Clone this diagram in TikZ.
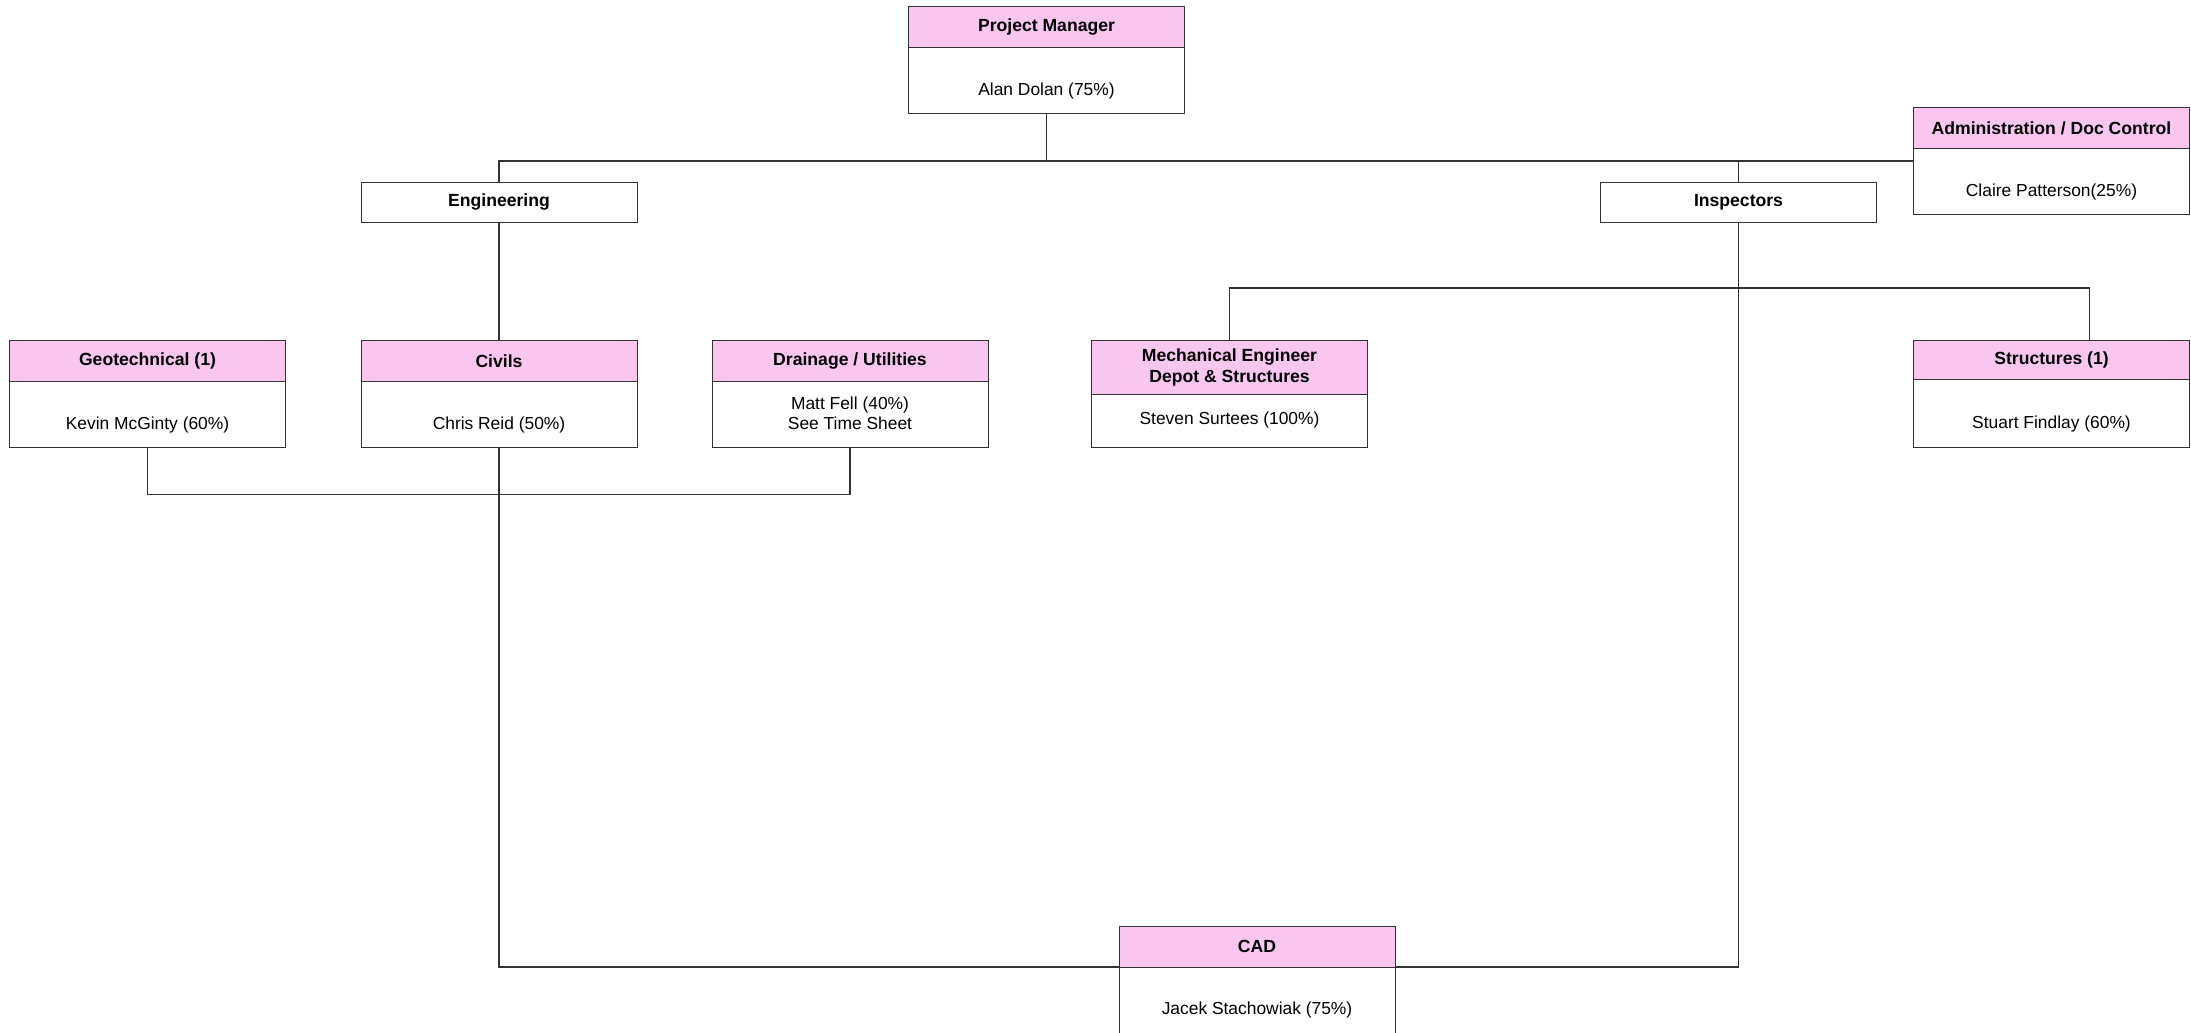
\documentclass[tikz,border=0pt]{standalone}
\usepackage{fontspec}
\setmainfont{Liberation Sans}
\usetikzlibrary{positioning}
\definecolor{headpink}{RGB}{249,198,239}
\begin{document}
\begin{tikzpicture}[x=0.5pt,y=-0.5pt,
  card/.style={draw=black!80,fill=white,minimum width=138pt,minimum height=53.5pt,inner sep=0pt,outer sep=0pt},
  head/.style={draw=black!80,fill=headpink,minimum width=138pt,minimum height=20.5pt,inner sep=0pt,outer sep=0pt,anchor=north,align=center,font=\fontsize{8.8}{10.5}\selectfont\bfseries},
  group/.style={draw=black!80,fill=white,minimum width=138pt,minimum height=20pt,inner sep=0pt,outer sep=0pt,font=\fontsize{8.8}{10.5}\selectfont\bfseries},
  who/.style={inner sep=0pt,align=center,font=\fontsize{8.7}{10}\selectfont},
  wire/.style={draw=black!80,line width=0.7pt}]
\useasboundingbox (0,0) rectangle (2191,1033);
% project manager and admin
\node[card] (pm) at (1046.5,59.5) {};
\node[head] (pmh) at (pm.north) {Project Manager};
\node[who] (pmw) at ([yshift=11pt]pm.south) {Alan Dolan (75\%)};
\node[card] (adm) at (2051.5,161) {};
\node[head] (admh) at (adm.north) {Administration / Doc Control};
\node[who] (admw) at ([yshift=11.5pt]adm.south) {Claire Patterson(25\%)};
% groups
\node[group] (eng) at (499,202) {Engineering};
\node[group] (insp) at (1738.5,202) {Inspectors};
% row of staff
\node[card] (geo) at (147.5,394) {};
\node[head] (geoh) at (geo.north) {Geotechnical (1)};
\node[who] (geow) at ([yshift=11.5pt]geo.south) {Kevin McGinty (60\%)};
\node[card] (civ) at (499,394) {};
\node[head] (civh) at (civ.north) {Civils};
\node[who] (civw) at ([yshift=11.5pt]civ.south) {Chris Reid (50\%)};
\node[card] (drn) at (850,394) {};
\node[head] (drnh) at (drn.north) {Drainage / Utilities};
\node[who] (drnw) at ([yshift=17pt]drn.south) {Matt Fell (40\%)\\See Time Sheet};
\node[card] (mech) at (1229.5,393.5) {};
\node[head,minimum height=27pt] (mechh) at (mech.north) {Mechanical Engineer\\Depot \& Structures};
\node[who] (mechw) at ([yshift=13.5pt]mech.south) {Steven Surtees (100\%)};
\node[card] (str) at (2051.5,393.5) {};
\node[head,minimum height=19.5pt] (strh) at (str.north) {Structures (1)};
\node[who] (strw) at ([yshift=11.5pt]str.south) {Stuart Findlay (60\%)};
% cad
\node[card] (cad) at (1257,979.5) {};
\node[head] (cadh) at (cad.north) {CAD};
\node[who] (cadw) at ([yshift=11.5pt]cad.south) {Jacek Stachowiak (75\%)};
% lines from the top
\draw[wire] (pm.south) -- (pm.south |- adm.west);
\draw[wire] (eng.north) |- (adm.west);
\draw[wire] (insp.north) -- (insp.north |- adm.west);
% lines of engineering
\draw[wire] (eng.south) -- (civ.north);
\draw[wire] (geo.south) -- ++(0,47) -| (drn.south);
\draw[wire] (civ.south) |- (cadh.south west);
% lines of inspectors
\draw[wire] (mech.north) -- ++(0,-52) -| ([xshift=19pt]str.north);
\draw[wire] (insp.south) |- (cadh.south east);
\end{tikzpicture}
\end{document}
